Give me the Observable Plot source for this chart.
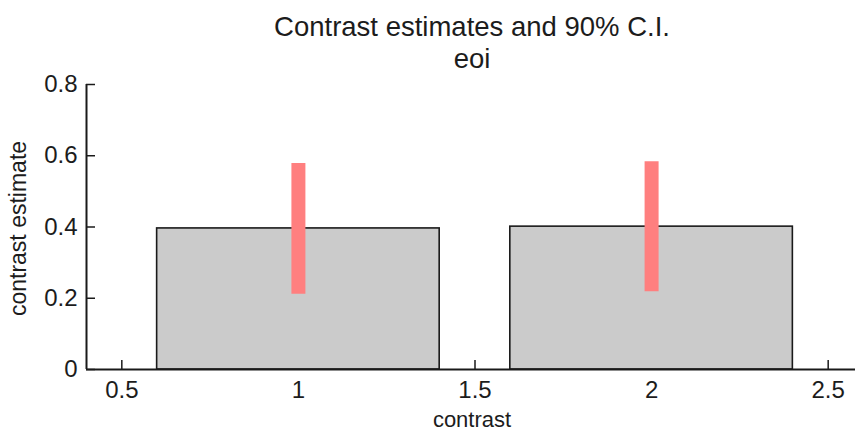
<!DOCTYPE html>
<html>
<head>
<meta charset="utf-8">
<script src="https://cdn.jsdelivr.net/npm/d3@7"></script>
<script src="https://cdn.jsdelivr.net/npm/@observablehq/plot@0.6"></script>
<style>
  html, body { margin: 0; padding: 0; background: #fff; }
  #chart { width: 855px; height: 430px; }
</style>
</head>
<body>
<div id="chart"></div>
<script>
// ---- data ----
const contrasts = [1, 2];
const estimates = [0.396, 0.401];
const ciLower = [0.211, 0.218];
const ciUpper = [0.578, 0.583];
const xTicks = [0.5, 1, 1.5, 2, 2.5];
const yTicks = [0, 0.2, 0.4, 0.6, 0.8];
const titleText = "Contrast estimates and 90% C.I.";
const subtitleText = "eoi";
const xLabel = "contrast";
const yLabel = "contrast estimate";

const barHalf = 0.4;
const rows = contrasts.map((c, i) => ({c, est: estimates[i], lo: ciLower[i], hi: ciUpper[i]}));

const fontFamily = "'Liberation Sans', Arial, Helvetica, sans-serif";
const axisColor = "#1a1a1a";
const textColor = "#1c1c1c";

const chart = Plot.plot({
  width: 855,
  height: 430,
  marginLeft: 86,
  marginRight: -8,
  marginTop: 84,
  marginBottom: 61,
  style: {fontFamily, background: "#fff", color: axisColor},
  x: {domain: [0.4, 2.6], axis: null},
  y: {domain: [0, 0.8], axis: null},
  marks: [
    // inward ticks
    Plot.tickX(xTicks, {x: d => d, insetTop: 276, stroke: axisColor, strokeWidth: 1.5}),
    Plot.tickY(yTicks, {y: d => d, insetRight: 768, stroke: axisColor, strokeWidth: 1.5}),
    // bars
    Plot.rectY(rows, {x1: d => d.c - barHalf, x2: d => d.c + barHalf, y1: 0, y2: "est",
      fill: "#cbcbcb", stroke: axisColor, strokeWidth: 1.6}),
    // confidence intervals
    Plot.ruleX(rows, {x: "c", y1: "lo", y2: "hi", stroke: "#ff7f7f", strokeWidth: 14}),
    // axis lines
    Plot.ruleY([0], {stroke: axisColor, strokeWidth: 2}),
    Plot.ruleX([0.4], {stroke: axisColor, strokeWidth: 2}),
    // tick labels
    Plot.axisX({ticks: xTicks, tickSize: 0, tickPadding: 11, tickFormat: d => String(d),
      fontSize: 24, label: null, fill: textColor}),
    Plot.axisY({ticks: yTicks, tickSize: 0, tickPadding: 9, tickFormat: d => String(d),
      fontSize: 24, label: null, fill: textColor}),
    // titles and labels
    Plot.text([titleText], {text: d => d, frameAnchor: "top", textAnchor: "middle", lineAnchor: "bottom",
      dx: -3, dy: -49, fontSize: 27.5, fill: textColor}),
    Plot.text([subtitleText], {text: d => d, frameAnchor: "top", textAnchor: "middle", lineAnchor: "bottom",
      dx: -3, dy: -17, fontSize: 27.5, fill: textColor}),
    Plot.text([xLabel], {text: d => d, frameAnchor: "bottom", textAnchor: "middle", lineAnchor: "bottom",
      dx: -3, dy: 57, fontSize: 22, fill: textColor}),
    Plot.text([yLabel], {text: d => d, frameAnchor: "left", textAnchor: "middle", y: 0.4, rotate: -90,
      lineAnchor: "bottom", dx: -61, dy: 1.5, fontSize: 23, fill: textColor})
  ]
});
document.getElementById("chart").appendChild(chart);
</script>
</body>
</html>
